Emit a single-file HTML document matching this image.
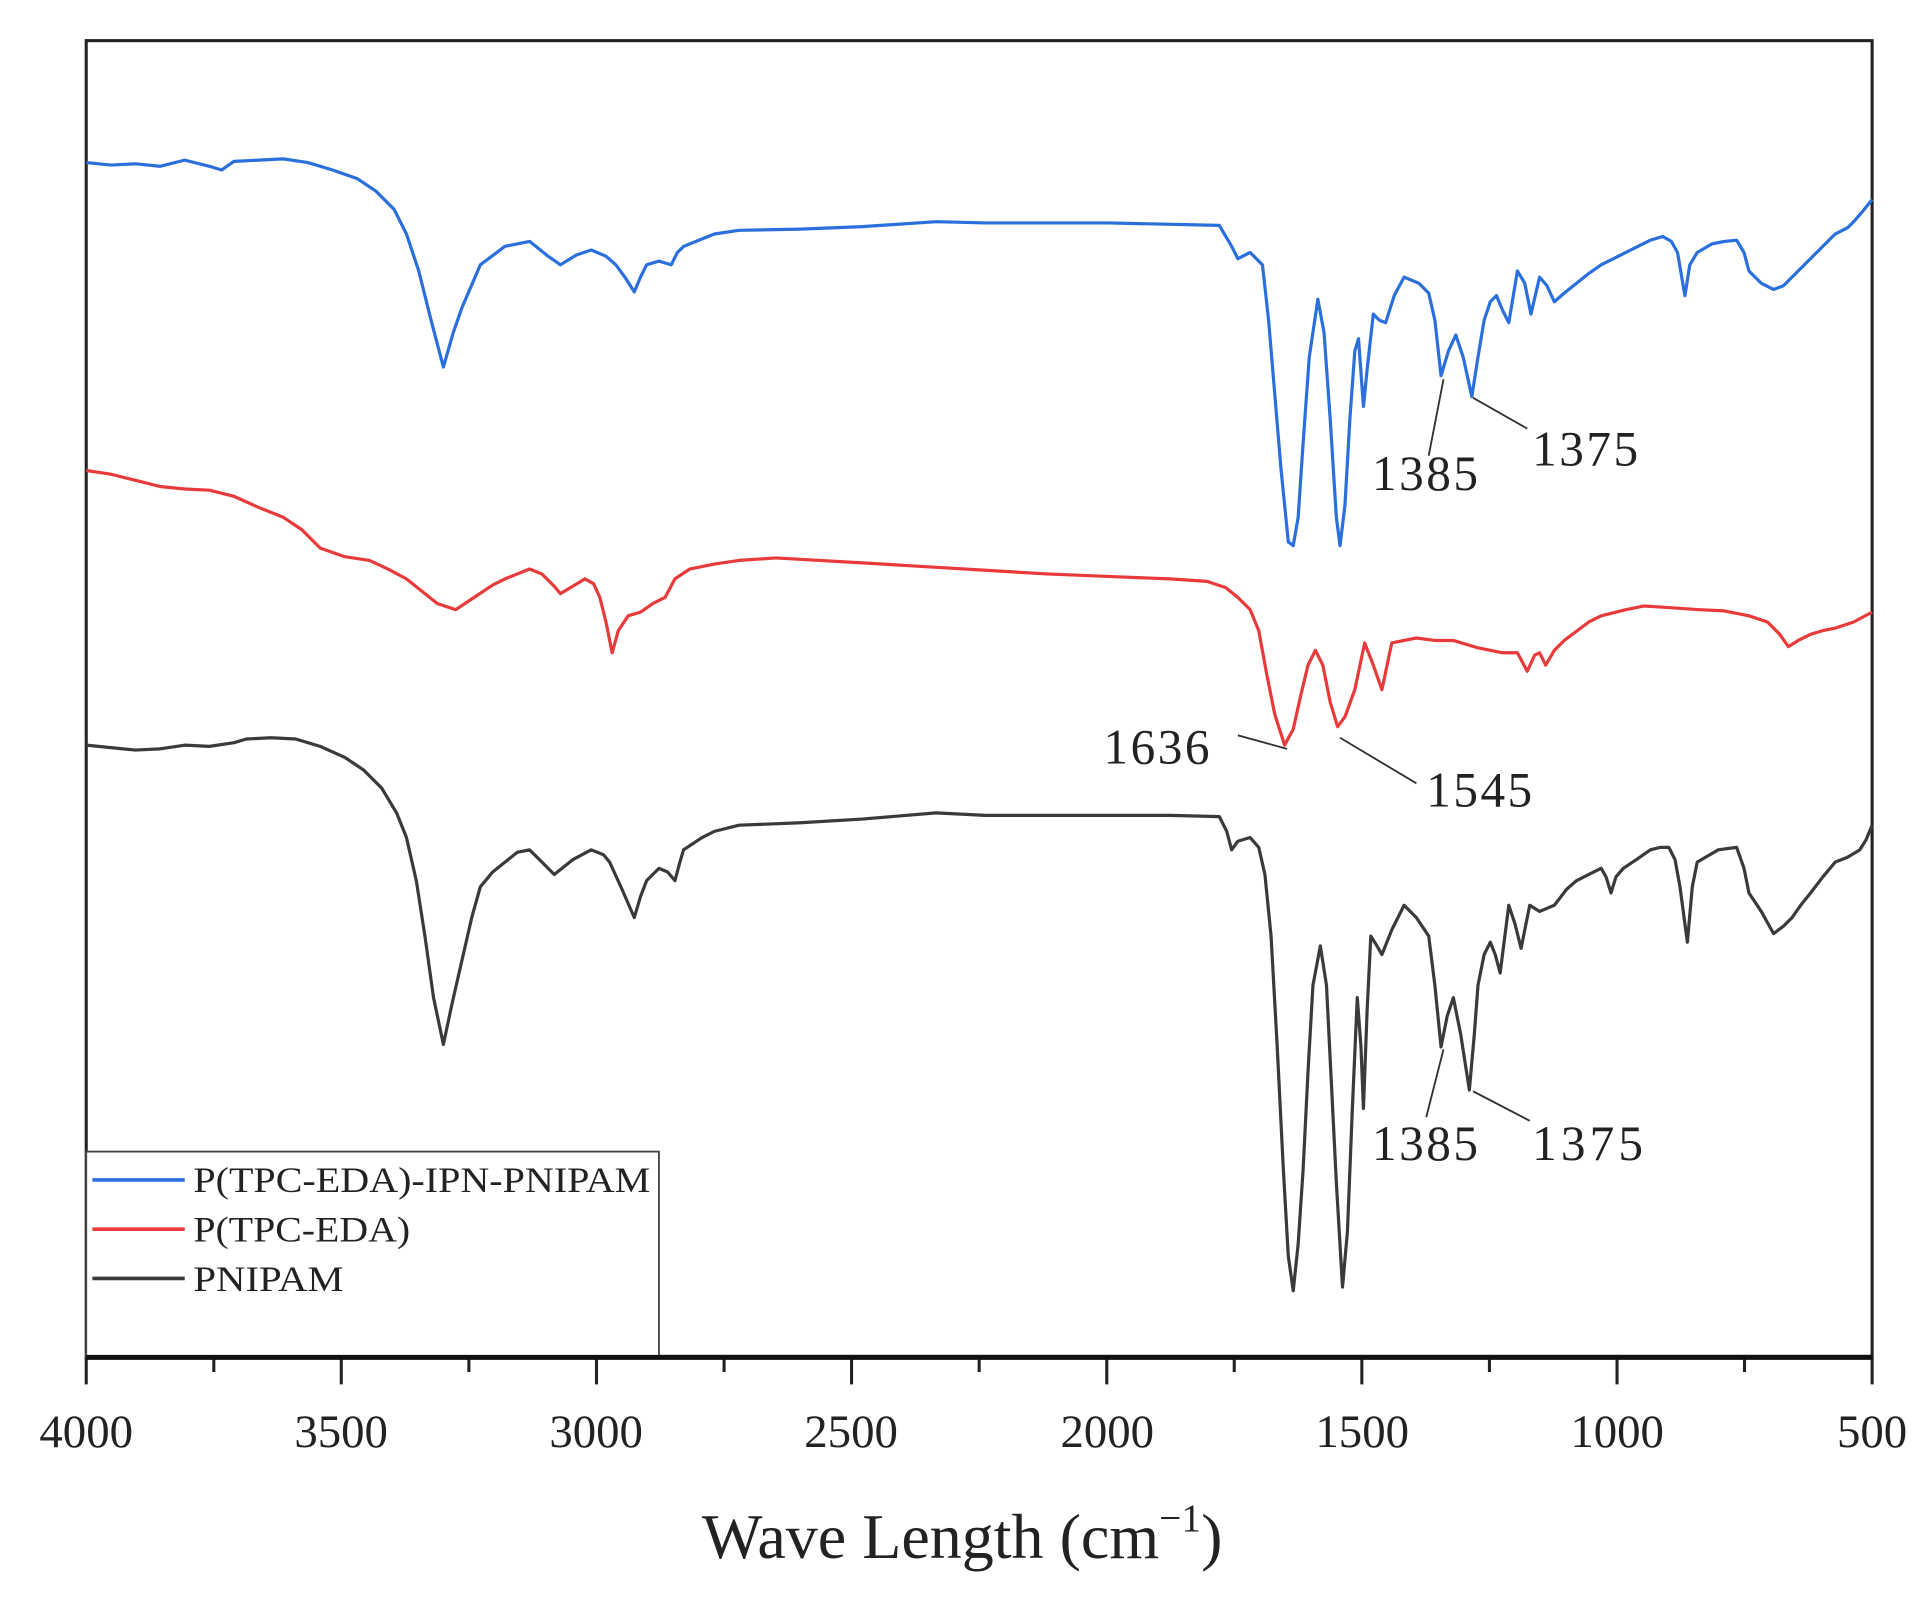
<!DOCTYPE html>
<html><head><meta charset="utf-8"><style>html,body{margin:0;padding:0;background:#fff}</style></head>
<body>
<svg width="1930" height="1595" viewBox="0 0 1567 1295" xmlns="http://www.w3.org/2000/svg" font-family="'Liberation Serif', serif">
<rect width="1567" height="1295" fill="#fff"/>
<rect x="70" y="33" width="1450" height="1069" fill="none" stroke="#222" stroke-width="2.5"/>
<line x1="70" y1="1102" x2="1520" y2="1102" stroke="#111" stroke-width="4"/>
<g stroke="#222" stroke-width="2.5">
<line x1="70" y1="1102" x2="70" y2="1124"/><line x1="173.6" y1="1102" x2="173.6" y2="1114"/>
<line x1="277.1" y1="1102" x2="277.1" y2="1124"/><line x1="380.7" y1="1102" x2="380.7" y2="1114"/>
<line x1="484.3" y1="1102" x2="484.3" y2="1124"/><line x1="587.9" y1="1102" x2="587.9" y2="1114"/>
<line x1="691.4" y1="1102" x2="691.4" y2="1124"/><line x1="795" y1="1102" x2="795" y2="1114"/>
<line x1="898.6" y1="1102" x2="898.6" y2="1124"/><line x1="1002.1" y1="1102" x2="1002.1" y2="1114"/>
<line x1="1105.7" y1="1102" x2="1105.7" y2="1124"/><line x1="1209.3" y1="1102" x2="1209.3" y2="1114"/>
<line x1="1312.9" y1="1102" x2="1312.9" y2="1124"/><line x1="1416.4" y1="1102" x2="1416.4" y2="1114"/>
<line x1="1520" y1="1102" x2="1520" y2="1124"/>
</g>
<g font-size="38" fill="#222" text-anchor="middle">
<text x="70" y="1175">4000</text><text x="277" y="1175">3500</text><text x="484" y="1175">3000</text>
<text x="691" y="1175">2500</text><text x="899" y="1175">2000</text><text x="1106" y="1175">1500</text>
<text x="1313" y="1175">1000</text><text x="1520" y="1175">500</text>
</g>
<text x="570" y="1265" font-size="52" fill="#222">Wave Length (cm<tspan dy="-22" font-size="32">−1</tspan><tspan dy="22">)</tspan></text>

<g fill="none" stroke-width="2.6" stroke-linejoin="round">
<polyline stroke="#2a6fdb" points="70,132 90,134 110,133 130,135 150,130 170,135 180,138 190,131 210,130 230,129 250,132 270,138 290,145 305,155 320,170 330,190 340,220 350,260 360,298 368,270 375,250 390,215 410,200 430,196 445,208 455,215 468,207 480,203 492,208 500,215 508,226 515,237 520,225 525,215 535,212 545,215 550,205 555,200 580,190 600,187 650,186 700,184 760,180 800,181 900,181 990,183 1000,200 1005,210 1015,205 1025,215 1030,260 1035,320 1040,380 1046,440 1050,443 1054,420 1058,360 1063,290 1070,243 1075,270 1080,340 1085,420 1088,443 1092,410 1096,340 1100,285 1103,275 1107,330 1110,300 1115,255 1120,260 1125,262 1132,240 1140,225 1152,230 1160,238 1165,260 1170,305 1176,285 1182,272 1188,290 1195,322 1200,290 1205,260 1210,245 1215,240 1220,252 1225,262 1232,220 1238,230 1243,255 1250,225 1256,232 1262,245 1270,238 1280,230 1290,222 1300,215 1310,210 1320,205 1330,200 1340,195 1350,192 1357,196 1362,205 1368,240 1372,215 1378,205 1390,198 1400,196 1410,195 1416,205 1420,220 1430,230 1440,235 1448,232 1455,225 1462,218 1470,210 1480,200 1490,190 1500,185 1505,180 1512,172 1520,162"/>
<polyline stroke="#e83a3a" points="70,382 90,385 110,390 130,395 150,397 170,398 190,403 210,412 230,420 245,430 260,445 280,452 300,455 315,462 330,470 345,482 355,490 370,495 385,485 400,475 410,470 430,462 440,466 450,476 455,482 465,476 475,470 482,474 487,485 492,505 497,530 502,512 510,500 520,497 530,490 540,485 548,470 560,462 580,458 600,455 630,453 700,457 750,460 800,463 850,466 900,468 950,470 980,472 995,477 1005,485 1015,495 1022,512 1028,545 1035,580 1043,605 1050,592 1056,565 1062,540 1068,528 1074,540 1080,570 1086,590 1092,582 1100,560 1108,522 1115,540 1122,560 1130,522 1150,518 1165,520 1180,520 1200,526 1220,530 1232,530 1240,545 1246,532 1250,530 1255,540 1262,528 1270,520 1290,505 1300,500 1320,495 1335,492 1350,493 1380,495 1400,496 1420,500 1435,505 1445,515 1452,525 1460,520 1470,515 1480,512 1490,510 1505,505 1520,497"/>
<polyline stroke="#3a3a3a" points="70,605 90,607 110,609 130,608 150,605 170,606 190,603 200,600 220,599 240,600 260,606 280,615 295,625 310,640 322,660 330,680 338,715 345,760 352,810 360,848 367,815 375,780 383,745 390,720 400,708 410,700 420,692 430,690 440,700 450,710 465,698 480,690 490,694 495,700 505,722 515,745 520,728 525,715 535,705 542,708 548,715 552,700 555,690 570,680 580,675 600,670 650,668 700,665 760,660 800,662 850,662 900,662 950,662 990,663 996,675 1000,690 1005,683 1015,680 1022,688 1027,710 1032,760 1037,850 1042,950 1046,1020 1050,1048 1054,1010 1058,950 1062,870 1066,800 1072,768 1077,800 1081,880 1085,960 1090,1045 1094,1000 1098,900 1102,810 1105,850 1107,900 1110,820 1113,760 1118,768 1122,775 1130,755 1140,735 1150,745 1160,760 1165,800 1170,850 1175,825 1180,810 1186,840 1193,885 1197,840 1200,800 1205,775 1210,765 1214,775 1218,790 1225,735 1230,750 1235,770 1242,735 1250,740 1262,735 1272,722 1280,715 1290,710 1300,705 1304,712 1308,725 1312,712 1318,705 1330,697 1340,690 1348,688 1355,688 1360,698 1364,720 1370,765 1374,720 1378,700 1395,690 1410,688 1416,705 1420,725 1430,740 1440,758 1448,752 1455,745 1462,735 1470,725 1480,712 1490,700 1500,696 1510,690 1515,682 1520,670"/>
</g>

<g stroke="#333" stroke-width="1.5">
<line x1="1172" y1="308" x2="1160" y2="370"/>
<line x1="1196" y1="323" x2="1240" y2="348"/>
<line x1="1005" y1="597" x2="1045" y2="608"/>
<line x1="1088" y1="599" x2="1150" y2="636"/>
<line x1="1172" y1="852" x2="1158" y2="907"/>
<line x1="1196" y1="886" x2="1242" y2="910"/>
</g>
<g font-size="40" fill="#222">
<text x="1114" y="398" textLength="86">1385</text>
<text x="1244" y="378" textLength="86">1375</text>
<text x="896" y="620" textLength="86">1636</text>
<text x="1158" y="655" textLength="86">1545</text>
<text x="1114" y="942" textLength="86">1385</text>
<text x="1244" y="942" textLength="90">1375</text>
</g>

<rect x="70" y="935" width="465" height="167" fill="#fff" stroke="#444" stroke-width="1.5"/>
<line x1="75" y1="958" x2="150" y2="958" stroke="#2a6fdb" stroke-width="3"/>
<line x1="75" y1="998" x2="150" y2="998" stroke="#e83a3a" stroke-width="3"/>
<line x1="75" y1="1038" x2="150" y2="1038" stroke="#3a3a3a" stroke-width="3"/>
<g font-size="29" fill="#222">
<text x="157" y="968" textLength="371" lengthAdjust="spacingAndGlyphs">P(TPC-EDA)-IPN-PNIPAM</text>
<text x="157" y="1008" textLength="176" lengthAdjust="spacingAndGlyphs">P(TPC-EDA)</text>
<text x="157" y="1048" textLength="122" lengthAdjust="spacingAndGlyphs">PNIPAM</text>
</g>
<line x1="70" y1="1102" x2="1520" y2="1102" stroke="#111" stroke-width="4"/>
</svg>
</body></html>
